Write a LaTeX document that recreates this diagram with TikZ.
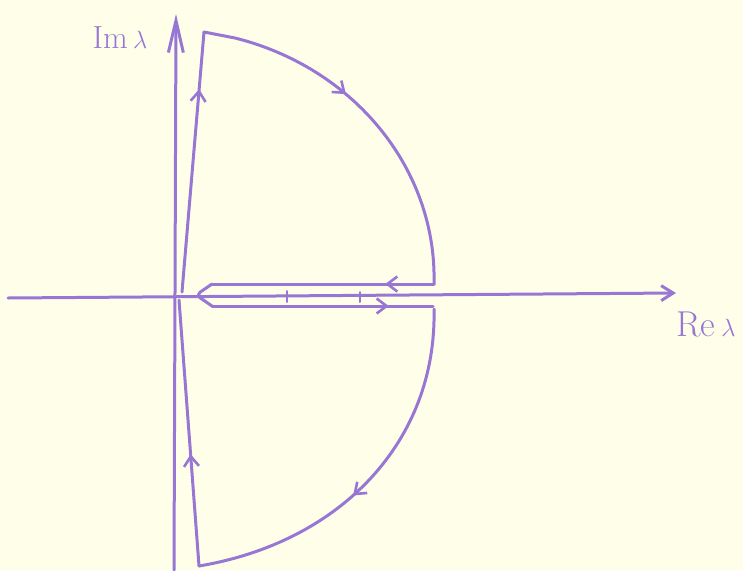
\documentclass[tikz,border=0pt]{standalone}
\usepackage{fontspec}
\usetikzlibrary{arrows.meta,decorations.markings}
\definecolor{bg}{RGB}{255,255,233}
\definecolor{ink}{RGB}{152,118,212}
\tikzset{
  inkline/.style={draw=ink, line width=3pt, line cap=round, line join=round},
  axisline/.style={inkline, -{Straight Barb[length=#1,width=15pt]}},
  midarrow/.style={postaction={decorate}, decoration={markings,
      mark=at position #1 with {\arrow[ink, line width=2.6pt]{Straight Barb[length=10pt,width=15pt]}}}},
  lbl/.style={text=ink, inner sep=0pt},
  tick/.style={draw=ink, line width=2pt, line cap=round}
}
\begin{document}
\begin{tikzpicture}[x=1pt,y=-1pt]
\fill[bg] (0,0) rectangle (743,570);
\useasboundingbox (0,0) rectangle (743,570);
% coordinates
\coordinate (xs) at (8,298);
\coordinate (xe) at (676,293);
\coordinate (ys) at (174,570);
\coordinate (ye) at (176,14);
\coordinate (O1) at (182,292);
\coordinate (T) at (204,32);
\coordinate (T2) at (235,38);
\coordinate (R1) at (434,284);
\coordinate (K1) at (212,284);
\coordinate (K0) at (196,295);
\coordinate (K2) at (212,306);
\coordinate (R2) at (433,306);
\coordinate (R3) at (434,309);
\coordinate (B) at (199,566);
\coordinate (O2) at (179,300);
% axes
\draw[axisline=12pt] (xs) -- (xe);
\draw[axisline=32pt] (ys) -- (ye);
% ticks on real axis
\draw[tick] (287,291) -- (287,302);
\draw[tick] (360,292) -- (360,302);
% contour
\draw[inkline, midarrow=0.78] (O1) -- (T);
\draw[inkline, midarrow=0.42] (T) -- (T2) .. controls (355,68) and (437,170) .. (R1);
\draw[inkline, midarrow=0.22] (R1) -- (K1);
\draw[inkline, rounded corners=5pt] (K1) -- (K0) -- (K2);
\draw[inkline, midarrow=0.8] (K2) -- (R2);
\draw[inkline, midarrow=0.55] (R3) .. controls (437,440) and (342,542) .. (B);
\draw[inkline, midarrow=0.42] (B) -- (O2);
% labels
\node[lbl, font=\fontsize{32}{32}\selectfont] (imlab) at (120,38) {Im\,$\lambda$};
\node[lbl, font=\fontsize{36}{36}\selectfont] (relab) at (706,324) {Re\,$\lambda$};
\end{tikzpicture}
\end{document}
